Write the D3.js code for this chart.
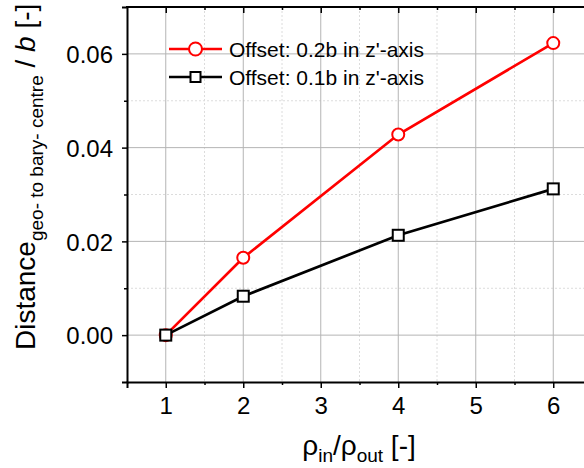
<!DOCTYPE html>
<html>
<head>
<meta charset="utf-8">
<script src="https://cdn.jsdelivr.net/npm/d3@7"></script>
<style>
  html, body { margin: 0; padding: 0; background: #fff; }
  svg { display: block; font-family: "Liberation Sans", Arial, sans-serif; }
</style>
</head>
<body>
<svg id="chart" width="584" height="468"></svg>
<script>
// Density ratio on the x axis
const ratios = [1, 2, 4, 6];
// Distance from geometric centre to barycentre, normalised by b
const offset02 = [0, 0.0165, 0.0428, 0.0623];
const offset01 = [0, 0.0083, 0.0213, 0.0312];
const seriesNames = ["Offset: 0.2b in z'-axis", "Offset: 0.1b in z'-axis"];
const xTicks = [1, 2, 3, 4, 5, 6];
const yTicks = [0, 0.02, 0.04, 0.06];
const yTickLabels = ["0.00", "0.02", "0.04", "0.06"];

const svg = d3.select("#chart");
const plotL = 127, plotR = 592, plotT = 7, plotB = 382;

const x = d3.scaleLinear().domain([0.5, 6.5]).range([plotL, plotR]);
const y = d3.scaleLinear().domain([-0.01, 0.07]).range([plotB, plotT]);

const xMinor = d3.range(1.5, 6.5, 1);
const yMinor = [0.01, 0.03, 0.05];

// grid: minor dotted, major solid
const grid = svg.append("g");
grid.selectAll(".gxm").data(xMinor).join("line")
  .attr("x1", d => x(d)).attr("x2", d => x(d)).attr("y1", plotT).attr("y2", plotB)
  .attr("stroke", "#dcdcdc").attr("stroke-width", 1).attr("stroke-dasharray", "2,2");
grid.selectAll(".gym").data(yMinor).join("line")
  .attr("x1", plotL).attr("x2", plotR).attr("y1", d => y(d)).attr("y2", d => y(d))
  .attr("stroke", "#dcdcdc").attr("stroke-width", 1).attr("stroke-dasharray", "2,2");
grid.selectAll(".gx").data(xTicks).join("line")
  .attr("x1", d => x(d)).attr("x2", d => x(d)).attr("y1", plotT).attr("y2", plotB)
  .attr("stroke", "#b4b4b4").attr("stroke-width", 1);
grid.selectAll(".gy").data(yTicks).join("line")
  .attr("x1", plotL).attr("x2", plotR).attr("y1", d => y(d)).attr("y2", d => y(d))
  .attr("stroke", "#b4b4b4").attr("stroke-width", 1);

// axes
const fmtY = d => yTickLabels[yTicks.indexOf(d)];
const xAxis = svg.append("g").attr("transform", `translate(0,${plotB})`)
  .call(d3.axisBottom(x).tickValues(xTicks).tickFormat(d3.format("d")).tickSize(6).tickPadding(9));
const xAxisMinor = svg.append("g").attr("transform", `translate(0,${plotB})`)
  .call(d3.axisBottom(x).tickValues(xMinor).tickFormat("").tickSize(3));
const xTop = svg.append("g").attr("transform", `translate(0,${plotT})`)
  .call(d3.axisBottom(x).tickValues(xTicks).tickFormat("").tickSize(6));
const xTopMinor = svg.append("g").attr("transform", `translate(0,${plotT})`)
  .call(d3.axisBottom(x).tickValues(xMinor).tickFormat("").tickSize(3));
const yAxis = svg.append("g").attr("transform", `translate(${plotL},0)`)
  .call(d3.axisLeft(y).tickValues(yTicks).tickFormat(fmtY).tickSize(5).tickPadding(9));
const yAxisMinor = svg.append("g").attr("transform", `translate(${plotL},0)`)
  .call(d3.axisLeft(y).tickValues(yMinor).tickFormat("").tickSize(3));

[xAxisMinor, xTop, xTopMinor, yAxisMinor].forEach(g => g.select(".domain").remove());
svg.selectAll(".domain").attr("stroke", "#000").attr("stroke-width", 2);
svg.append("line").attr("x1", plotL - 1).attr("x2", plotR).attr("y1", plotT).attr("y2", plotT)
  .attr("stroke", "#000").attr("stroke-width", 2);
svg.selectAll(".tick line").attr("stroke", "#000").attr("stroke-width", 1.5);
svg.selectAll(".tick text").attr("fill", "#000").style("font-size", "24px")
  .style("font-family", "'Liberation Sans', Arial, sans-serif");
yAxis.selectAll(".tick text").attr("dy", "0.36em");

// series
const lineGen = d3.line().x(d => x(d[0])).y(d => y(d[1]));
const redPts = ratios.map((r, i) => [r, offset02[i]]);
const blkPts = ratios.map((r, i) => [r, offset01[i]]);

svg.append("path").datum(redPts).attr("d", lineGen)
  .attr("fill", "none").attr("stroke", "#ff0000").attr("stroke-width", 2.7);
svg.selectAll(".rc").data(redPts).join("circle")
  .attr("cx", d => x(d[0])).attr("cy", d => y(d[1])).attr("r", 6)
  .attr("fill", "#fff").attr("stroke", "#ff0000").attr("stroke-width", 2);

svg.append("path").datum(blkPts).attr("d", lineGen)
  .attr("fill", "none").attr("stroke", "#000").attr("stroke-width", 2.7);
svg.selectAll(".bs").data(blkPts).join("rect")
  .attr("x", d => x(d[0]) - 5.5).attr("y", d => y(d[1]) - 5.5)
  .attr("width", 11).attr("height", 11)
  .attr("fill", "#fff").attr("stroke", "#000").attr("stroke-width", 2);

// legend
const leg = svg.append("g");
const legRows = [
  { name: seriesNames[0], color: "#ff0000", shape: "circle", cy: 49 },
  { name: seriesNames[1], color: "#000", shape: "square", cy: 77 }
];
legRows.forEach(r => {
  leg.append("line").attr("x1", 169).attr("x2", 222).attr("y1", r.cy).attr("y2", r.cy)
    .attr("stroke", r.color).attr("stroke-width", 2.7);
  if (r.shape === "circle") {
    leg.append("circle").attr("cx", 195.5).attr("cy", r.cy).attr("r", 6.5)
      .attr("fill", "#fff").attr("stroke", r.color).attr("stroke-width", 2);
  } else {
    leg.append("rect").attr("x", 190.5).attr("y", r.cy - 5).attr("width", 10).attr("height", 10)
      .attr("fill", "#fff").attr("stroke", r.color).attr("stroke-width", 2);
  }
  leg.append("text").attr("x", 229).attr("y", r.cy + 8).text(r.name)
    .style("font-size", "21px").attr("fill", "#000");
});

// axis titles
const xt = svg.append("text").attr("x", 359).attr("y", 455)
  .attr("text-anchor", "middle").style("font-size", "28px").attr("fill", "#000");
xt.append("tspan").text("ρ");
xt.append("tspan").attr("dy", 7).style("font-size", "19px").text("in");
xt.append("tspan").attr("dy", -7).text("/ρ");
xt.append("tspan").attr("dy", 7).style("font-size", "19px").text("out");
xt.append("tspan").attr("dy", -7).text(" [-]");

const yt = svg.append("text")
  .attr("transform", "translate(35,350) rotate(-90)")
  .attr("text-anchor", "start").style("font-size", "28px").attr("fill", "#000");
yt.append("tspan").text("Distance");
yt.append("tspan").attr("dy", 8).style("font-size", "19px").text("geo- to bary- centre");
yt.append("tspan").attr("dy", -8).text(" / ");
yt.append("tspan").style("font-style", "italic").text("b");
yt.append("tspan").text(" [-]");
</script>
</body>
</html>
